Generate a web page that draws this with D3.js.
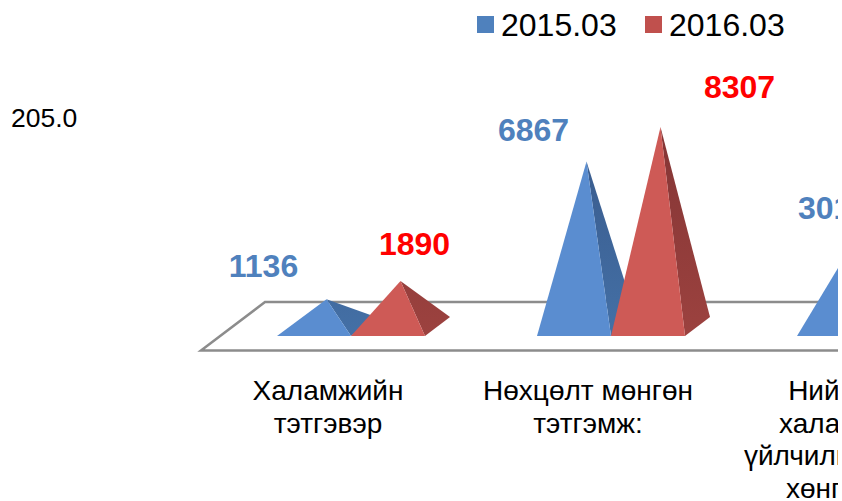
<!DOCTYPE html>
<html>
<head>
<meta charset="utf-8">
<script src="https://cdn.jsdelivr.net/npm/d3@7"></script>
<style>
  html, body { margin: 0; padding: 0; background: #fff; overflow: hidden; }
  text { font-family: "Liberation Sans", Arial, sans-serif; }
</style>
</head>
<body>
<div id="chart"></div>
<script>
// chart values
const categories = ["Халамжийн тэтгэвэр", "Нөхцөлт мөнгөн тэтгэмж:", "Нийгмийн халамжийн үйлчилгээний"];
const categoryLines = [
    ["Халамжийн", "тэтгэвэр"],
    ["Нөхцөлт мөнгөн", "тэтгэмж:"],
    ["Нийгмийн", "халамжийн", "үйлчилгээний ба", "хөнгөлөлт"]
];
const seriesNames = ["2015.03", "2016.03"];
const values2015 = [1136, 6867, 3019];
const values2016 = [1890, 8307, null]; // third one is outside the picture
const strayTick = "205.0";

// colours and layout, kept apart from the values
const frontColors = ["#5a8dd0", "#ce5a56"];
const sideColors = [["#38598a", "#4470a6"], ["#843535", "#9c423f"]];
const legendColors = ["#4f81bd", "#c0504d"];
const labelColors = ["#4f81bd", "#ff0000"];
const labelShift = [
    [[-63, -22], [-53, -21], [-13, -35]],
    [[14, -26], [79, -29], [0, 0]]
];
const tickNudge = [0, 0, 4];

const width = 842, height = 501;
const baseY = 336, depthX = 25, depthY = 19;

const svg = d3.select("#chart").append("svg")
    .attr("width", width)
    .attr("height", height)
    .style("display", "block");

const defs = svg.append("defs");
defs.append("clipPath").attr("id", "plotClip")
    .append("rect").attr("width", 838).attr("height", height);

sideColors.forEach((c, s) => {
    const grad = defs.append("linearGradient")
        .attr("id", "side" + s)
        .attr("gradientUnits", "userSpaceOnUse")
        .attr("x1", 0).attr("x2", 0)
        .attr("y1", 127).attr("y2", baseY);
    grad.append("stop").attr("offset", "0%").attr("stop-color", c[0]);
    grad.append("stop").attr("offset", "100%").attr("stop-color", c[1]);
});

const plot = svg.append("g").attr("clip-path", "url(#plotClip)");

// scales
const x = d3.scaleBand()
    .domain(categories)
    .range([221, 1001])
    .paddingInner(112 / 260)
    .paddingOuter(56 / 260);

const xSeries = d3.scaleBand()
    .domain(seriesNames)
    .range([0, x.bandwidth()]);

const y = d3.scaleLinear()
    .domain([0, 8307])
    .range([baseY - depthY / 2, 127]);

// floor of the 3d plot
plot.append("path")
    .attr("d", d3.line()([[900, 302], [265, 302], [201, 350.5], [900, 350.5]]))
    .attr("fill", "none")
    .attr("stroke", "#8c8c8c")
    .attr("stroke-width", 2.5);

// pyramids
const rows = [values2015, values2016];
rows.forEach((vals, s) => {
    const g = plot.append("g");
    const items = vals
        .map((v, i) => ({ v: v, cat: categories[i] }))
        .filter(d => d.v !== null);

    const left = d => x(d.cat) + xSeries(seriesNames[s]);
    const w = xSeries.bandwidth();
    const apex = d => [left(d) + w / 2 + depthX / 2, y(d.v)];

    g.selectAll(".side")
        .data(items)
        .enter()
        .append("path")
        .attr("class", "side")
        .attr("fill", `url(#side${s})`)
        .attr("d", d => d3.line()([[left(d) + w, baseY], [left(d) + w + depthX, baseY - depthY], apex(d)]) + "Z");

    g.selectAll(".front")
        .data(items)
        .enter()
        .append("path")
        .attr("class", "front")
        .attr("fill", frontColors[s])
        .attr("d", d => d3.line()([[left(d), baseY], [left(d) + w, baseY], apex(d)]) + "Z");
});

// value labels
rows.forEach((vals, s) => {
    const w = xSeries.bandwidth();
    plot.selectAll(".label" + s)
        .data(vals.map((v, i) => ({ v: v, i: i })).filter(d => d.v !== null))
        .enter()
        .append("text")
        .attr("class", "label" + s)
        .attr("x", d => x(categories[d.i]) + xSeries(seriesNames[s]) + w / 2 + depthX / 2 + labelShift[s][d.i][0])
        .attr("y", d => y(d.v) + labelShift[s][d.i][1])
        .attr("text-anchor", "middle")
        .attr("font-size", "32px")
        .attr("font-weight", "bold")
        .attr("fill", labelColors[s])
        .text(d => d.v);
});

// category axis, labels sit left of the bars because of the 3d depth
const axis = plot.append("g")
    .attr("transform", "translate(-23,372)")
    .call(d3.axisBottom(x).tickSize(0).tickPadding(0));
axis.select(".domain").remove();
axis.selectAll(".tick text").each(function (d, i) {
    const t = d3.select(this)
        .text(null)
        .attr("font-size", "28px")
        .attr("fill", "#000")
        .attr("y", 0)
        .attr("dy", null);
    categoryLines[i].forEach((line, k) => {
        t.append("tspan")
            .attr("x", tickNudge[i])
            .attr("y", 28 + k * 32.5)
            .text(line);
    });
});
axis.style("font-family", null);
axis.selectAll("text").style("font-family", '"Liberation Sans", Arial, sans-serif');

// leftover tick on the left
svg.append("text")
    .attr("x", 11)
    .attr("y", 127)
    .attr("font-size", "26.5px")
    .attr("fill", "#000")
    .text(strayTick);

// legend
const legendX = d3.scaleOrdinal().domain(seriesNames).range([477, 645]);
seriesNames.forEach((name, i) => {
    svg.append("rect")
        .attr("x", legendX(name))
        .attr("y", 16)
        .attr("width", 17)
        .attr("height", 17)
        .attr("fill", legendColors[i]);
    svg.append("text")
        .attr("x", legendX(name) + 24)
        .attr("y", 36)
        .attr("font-size", "32px")
        .attr("fill", "#000")
        .text(name);
});
</script>
</body>
</html>
